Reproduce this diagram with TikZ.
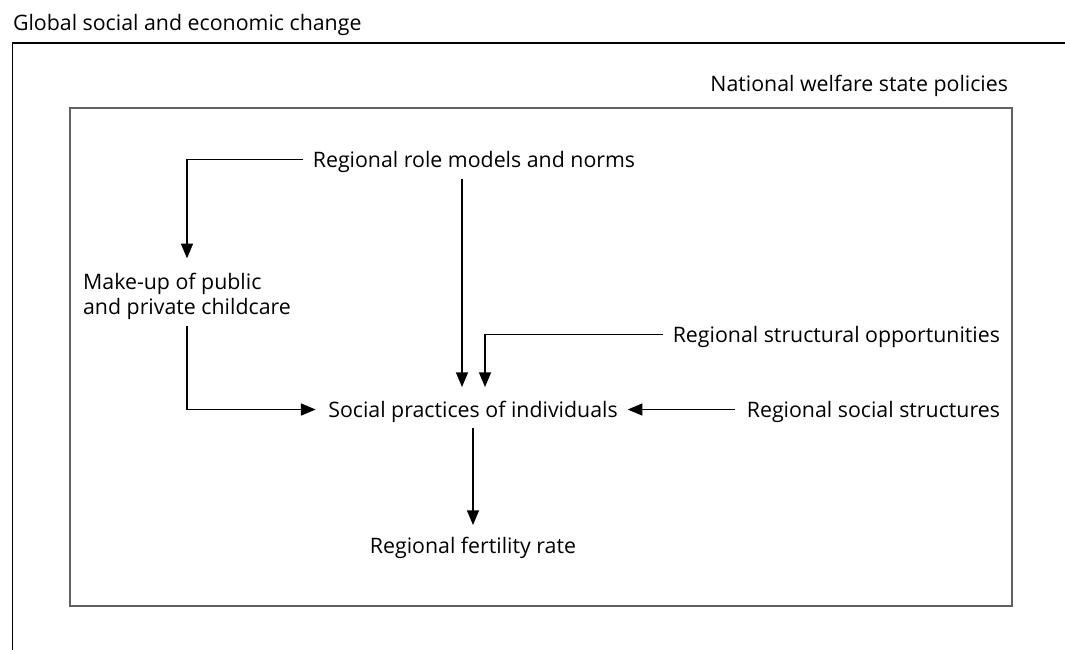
\documentclass[tikz,border=0pt]{standalone}
\usepackage{fontspec}
\setmainfont{Open Sans}
\usetikzlibrary{arrows.meta,calc}
\begin{document}
\begin{tikzpicture}[x=0.75pt,y=-0.75pt,
  txt/.style={inner sep=0pt, outer sep=0pt, font=\fontsize{16}{18.75}\selectfont, text height=15pt, text depth=3.8pt},
  txtml/.style={inner sep=0pt, outer sep=0pt, font=\fontsize{16}{18.75}\selectfont, align=left},
  arr/.style={draw=black, line width=1pt, -{Triangle[length=11pt,width=9pt]}},
  outerframe/.style={draw=black, line width=1.1pt},
  innerframe/.style={draw=black!62, line width=1.1pt}]
\useasboundingbox (0,0) rectangle (1065,650);
% frames
\draw[outerframe] (1066,43) -- (12.5,43) -- (12.5,651);
\draw[innerframe] (70,108) rectangle (1012,606);
% labels
\node[txt, anchor=base west] (global) at (13,30) {Global social and economic change};
\node[txt, anchor=base east] (national) at (1008,91) {National welfare state policies};
\node[txt, anchor=base] (role) at (474,167) {Regional role models and norms};
\node[txtml, anchor=north] (makeup) at (187,273) {Make-up of public\\and private childcare};
\node[txt, anchor=base east] (struct) at (1000,342) {Regional structural opportunities};
\node[txt, anchor=base] (social) at (473,417) {Social practices of individuals};
\node[txt, anchor=base east] (socstruct) at (1000,417) {Regional social structures};
\node[txt, anchor=base] (fert) at (473,553) {Regional fertility rate};
% connectors
\draw[arr, shorten <=7.5pt, shorten >=11pt] (role.west) -| (makeup.north);
\draw[arr, shorten <=5pt, shorten >=7.5pt] ($(role.south)+(-12,0)$) -- ($(social.north)+(-11,0)$);
\draw[arr, shorten <=5pt, shorten >=9.5pt] (makeup.south) |- (social.west);
\draw[arr, shorten <=7.5pt, shorten >=7.5pt] (struct.west) -| ($(social.north)+(12,0)$);
\draw[arr, shorten <=9pt, shorten >=7.5pt] (socstruct.west) -- (social.east);
\draw[arr, shorten <=4.5pt, shorten >=6pt] (social.south) -- (fert.north);
\end{tikzpicture}
\end{document}
